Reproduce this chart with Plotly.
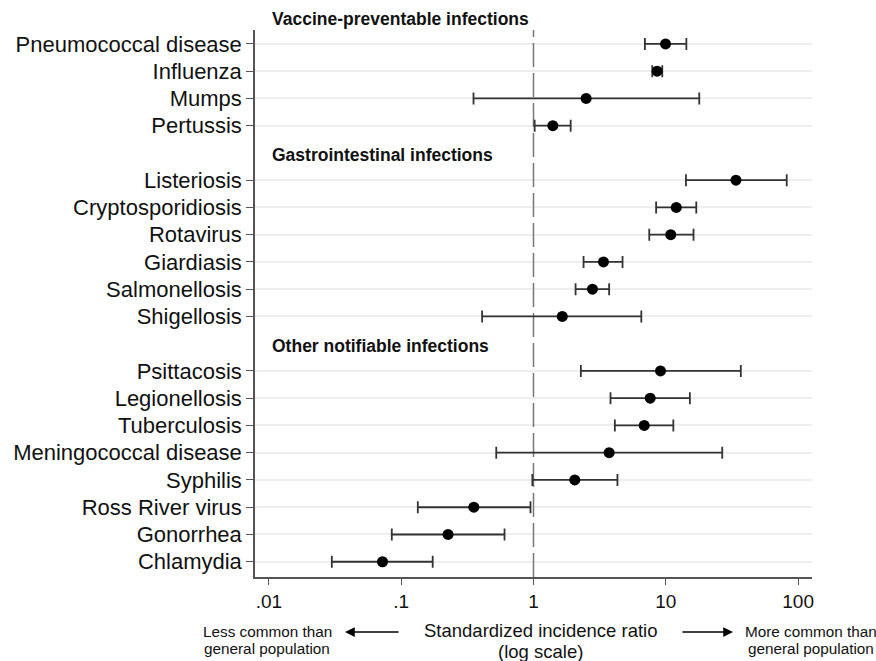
import plotly.graph_objects as go

# ---------------- data ----------------
group_titles = ["Vaccine-preventable infections",
                "Gastrointestinal infections",
                "Other notifiable infections"]

vaccine_names = ["Pneumococcal disease", "Influenza", "Mumps", "Pertussis"]
vaccine_sir = [9.95, 8.6, 2.5, 1.40]
vaccine_lo = [6.95, 7.9, 0.352, 1.02]
vaccine_hi = [14.3, 9.4, 17.9, 1.91]

gastro_names = ["Listeriosis", "Cryptosporidiosis", "Rotavirus", "Giardiasis",
                "Salmonellosis", "Shigellosis"]
gastro_sir = [33.9, 12.0, 10.9, 3.38, 2.79, 1.65]
gastro_lo = [14.2, 8.45, 7.5, 2.39, 2.08, 0.409]
gastro_hi = [82.0, 17.0, 16.2, 4.71, 3.73, 6.53]

other_names = ["Psittacosis", "Legionellosis", "Tuberculosis", "Meningococcal disease",
               "Syphilis", "Ross River virus", "Gonorrhea", "Chlamydia"]
other_sir = [9.12, 7.62, 6.87, 3.73, 2.05, 0.354, 0.226, 0.0722]
other_lo = [2.28, 3.82, 4.12, 0.523, 0.98, 0.1335, 0.0849, 0.0299]
other_hi = [36.9, 15.2, 11.4, 26.7, 4.31, 0.949, 0.604, 0.173]

x_tickvals = [0.01, 0.1, 1, 10, 100]
x_ticktext = [".01", ".1", "1", "10", "100"]
reference_value = 1

# ---------------- layout constants ----------------
W, H = 876, 661
ML, MR, MT, MB = 255, 64, 30, 84
PW, PH = W - ML - MR, H - MT - MB
FONT = "Liberation Sans, Arial, Helvetica, sans-serif"


def px_x(px):
    return (px - ML) / PW


def px_y(py):
    return (H - MB - py) / PH


groups = [
    (group_titles[0], vaccine_names, vaccine_sir, vaccine_lo, vaccine_hi),
    (group_titles[1], gastro_names, gastro_sir, gastro_lo, gastro_hi),
    (group_titles[2], other_names, other_sir, other_lo, other_hi),
]

# assign row slots (header occupies one slot)
names, sir, lo, hi, ypos, header_pos = [], [], [], [], [], []
slot = 0
for title, n, s, l, h in groups:
    header_pos.append((title, slot))
    slot += 1
    for i in range(len(n)):
        names.append(n[i]); sir.append(s[i]); lo.append(l[i]); hi.append(h[i])
        ypos.append(slot)
        slot += 1
last_slot = slot - 1
y_bottom, y_top = last_slot + 0.56, 0.49


def slot_paper(s):
    return (y_bottom - s) / (y_bottom - y_top)


fig = go.Figure()
# dashed reference line at SIR = 1
fig.add_trace(go.Scatter(
    x=[reference_value, reference_value], y=[y_bottom, y_top], mode="lines",
    line=dict(color="#777777", width=1.5, dash="24px,6px"),
    showlegend=False, hoverinfo="skip", cliponaxis=False))
fig.add_trace(go.Scatter(
    x=sir, y=ypos, mode="markers",
    marker=dict(color="black", size=11, symbol="circle"),
    error_x=dict(type="data", symmetric=False,
                 array=[h - s for h, s in zip(hi, sir)],
                 arrayminus=[s - l for s, l in zip(sir, lo)],
                 color="#333333", thickness=1.8, width=6),
    showlegend=False, hoverinfo="skip",
))

annotations = []
for title, pos in header_pos:
    annotations.append(dict(
        x=px_x(270), xref="paper", y=slot_paper(pos), yref="paper", yshift=-2,
        text="<b>%s</b>" % title, showarrow=False, xanchor="left", yanchor="middle",
        font=dict(family=FONT, size=17.5, color="#111111")))


def text_at(txt, xpx, ypx, size, xanchor="center"):
    annotations.append(dict(
        x=px_x(xpx), xref="paper", y=px_y(ypx), yref="paper",
        text=txt, showarrow=False, xanchor=xanchor, yanchor="middle",
        font=dict(family=FONT, size=size, color="#111111")))


text_at("Standardized incidence ratio", 540, 630, 18.5)
text_at("(log scale)", 540, 651, 18.5)
text_at("Less common than", 267, 631, 15.3)
text_at("general population", 267, 648, 15.3)
text_at("More common than", 743, 631, 15.3, "left")
text_at("general population", 746, 648, 15.3, "left")

# arrows
annotations.append(dict(
    x=px_x(345), xref="paper", y=px_y(632), yref="paper",
    ax=55, ay=0, axref="pixel", ayref="pixel", text="", showarrow=True,
    arrowhead=2, arrowsize=1.3, arrowwidth=1.5, arrowcolor="black"))
annotations.append(dict(
    x=px_x(733), xref="paper", y=px_y(632), yref="paper",
    ax=-52, ay=0, axref="pixel", ayref="pixel", text="", showarrow=True,
    arrowhead=2, arrowsize=1.3, arrowwidth=1.5, arrowcolor="black"))

fig.update_layout(
    width=W, height=H, autosize=False,
    margin=dict(l=ML, r=MR, t=MT, b=MB, pad=0),
    paper_bgcolor="white", plot_bgcolor="white",
    font=dict(family=FONT, color="#111111"),
    annotations=annotations,
    xaxis=dict(type="log", range=[-2.105, 2.105],
               tickvals=x_tickvals, ticktext=x_ticktext,
               ticks="outside", ticklen=6, tickwidth=1.3, tickcolor="#555555",
               showgrid=False, zeroline=False,
               showline=True, linecolor="#555555", linewidth=1.5,
               tickfont=dict(family=FONT, size=19, color="#111111")),
    yaxis=dict(range=[y_bottom, y_top],
               tickvals=ypos, ticktext=names,
               ticks="outside", ticklen=7, tickwidth=1.3, tickcolor="#555555",
               showgrid=True, gridcolor="#eeeeee", gridwidth=2,
               zeroline=False, showline=True, linecolor="#555555", linewidth=1.5,
               tickfont=dict(family=FONT, size=22, color="#111111")),
)

fig.write_html("out.html")
